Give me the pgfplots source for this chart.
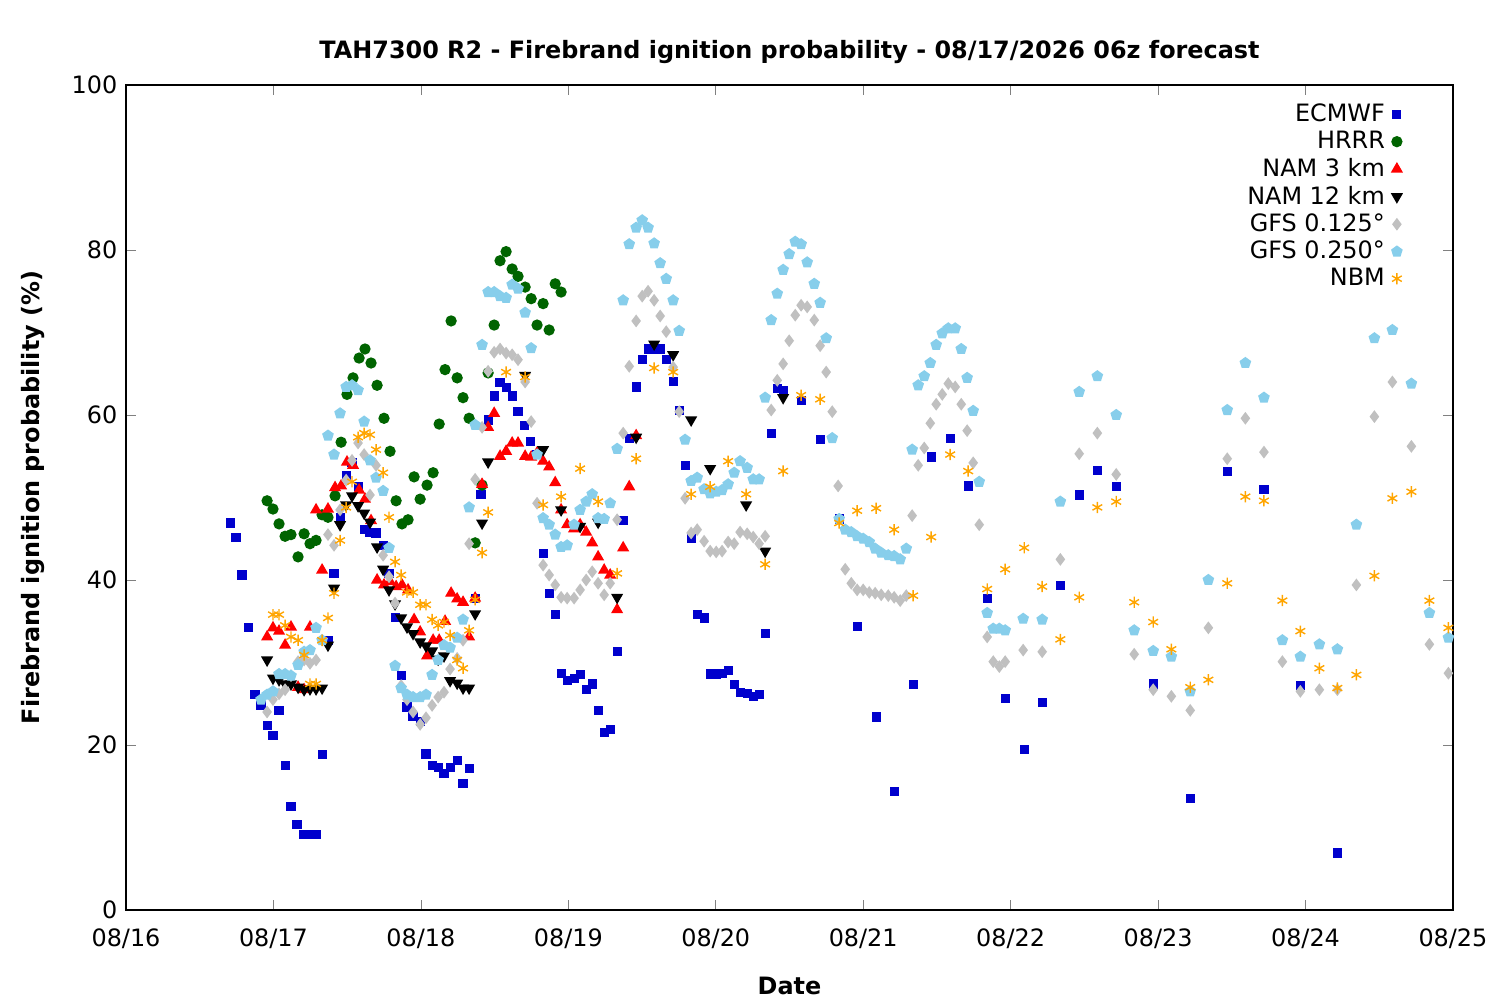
\documentclass[border=0pt]{standalone}
\usepackage{pgfplots}
\pgfplotsset{compat=1.18}
\usepackage{fontspec}
\setmainfont{DejaVu Sans}
\definecolor{ecm}{HTML}{0000CD}
\definecolor{hrrr}{HTML}{006400}
\definecolor{gfsa}{HTML}{C0C0C0}
\definecolor{gfsb}{HTML}{87CEEB}
\definecolor{nbm}{HTML}{FFA500}
\begin{document}
\fontsize{6.8pt}{8pt}\selectfont
\begin{tikzpicture}
\begin{axis}[
 scale only axis, width=13.27cm, height=8.25cm,
 xmin=0, xmax=9, ymin=0, ymax=100,
 xtick={0,...,9}, xticklabels={08/16,08/17,08/18,08/19,08/20,08/21,08/22,08/23,08/24,08/25},
 ytick={0,20,40,60,80,100},
 tick align=inside, tick pos=both, major tick length=0.1cm,
 /pgf/number format/assume math mode=true,
 ticklabel style={font=\fontsize{6.8pt}{8pt}\selectfont},
 xticklabel style={yshift=-0.1cm},
 xlabel={\textbf{Date}}, ylabel={\textbf{Firebrand ignition probability (\%)}},
 xlabel style={yshift=-0.12cm}, ylabel style={yshift=0.1cm},
 title={\textbf{TAH7300 R2 - Firebrand ignition probability - 08/17/2026 06z forecast}},
 title style={yshift=-0.08cm},
 legend style={draw=none, fill=none, at={(0.97,0.995)}, anchor=north east, font=\fontsize{6.8pt}{8pt}\selectfont, row sep=-2.3pt},
 legend cell align=right, legend plot pos=right,
 only marks, mark size=1.3pt,
]
\addplot[ecm, mark=square*, mark size=1.1pt] coordinates {
(0.706,46.9)(0.746,45.1)(0.787,40.6)(0.828,34.2)(0.875,26.1)(0.916,24.8)(0.957,22.4)(0.997,21.1)(1.038,24.2)(1.079,17.5)(1.119,12.5)(1.160,10.4)(1.201,9.1)(1.248,9.1)(1.289,9.1)(1.330,18.8)(1.370,32.7)(1.411,40.8)(1.452,47.6)(1.493,52.7)(1.533,54.2)(1.574,51.3)(1.615,46.1)(1.655,45.8)(1.696,45.7)(1.744,44.2)(1.784,40.8)(1.825,35.5)(1.866,28.4)(1.906,24.6)(1.947,23.5)(1.995,22.8)(2.035,18.9)(2.076,17.5)(2.117,17.3)(2.157,16.5)(2.198,17.3)(2.246,18.1)(2.286,15.3)(2.327,17.2)(2.368,37.8)(2.408,50.4)(2.456,59.4)(2.497,62.3)(2.537,63.9)(2.578,63.3)(2.619,62.3)(2.659,60.4)(2.700,58.7)(2.741,56.8)(2.788,55.2)(2.829,43.2)(2.870,38.4)(2.911,35.8)(2.951,28.7)(2.992,27.8)(3.039,28.1)(3.080,28.5)(3.121,26.7)(3.162,27.4)(3.202,24.2)(3.243,21.5)(3.284,21.9)(3.331,31.3)(3.372,47.2)(3.413,57.2)(3.460,63.4)(3.501,66.7)(3.541,68.0)(3.582,67.9)(3.623,68.0)(3.664,66.7)(3.711,64.1)(3.752,60.5)(3.792,53.9)(3.833,45.0)(3.874,35.8)(3.921,35.4)(3.962,28.6)(4.003,28.6)(4.043,28.7)(4.084,29.0)(4.125,27.3)(4.165,26.4)(4.213,26.2)(4.254,25.9)(4.294,26.1)(4.335,33.5)(4.376,57.8)(4.417,63.2)(4.457,62.9)(4.579,61.8)(4.708,57.0)(4.837,47.4)(4.959,34.4)(5.088,23.4)(5.210,14.4)(5.339,27.3)(5.461,54.9)(5.590,57.2)(5.712,51.4)(5.841,37.8)(5.963,25.6)(6.092,19.5)(6.214,25.2)(6.337,39.3)(6.465,50.3)(6.588,53.3)(6.716,51.3)(6.967,27.4)(7.218,13.5)(7.469,53.1)(7.718,51.0)(7.965,27.2)(8.216,6.9)};
\addlegendentry{ECMWF}
\addplot[hrrr, mark=*, mark size=1.4pt] coordinates {
(0.957,49.6)(0.997,48.6)(1.038,46.8)(1.079,45.3)(1.119,45.5)(1.167,42.8)(1.208,45.6)(1.248,44.4)(1.289,44.8)(1.330,47.9)(1.370,47.6)(1.418,50.2)(1.459,56.7)(1.499,62.5)(1.540,64.5)(1.581,66.9)(1.621,68.0)(1.662,66.3)(1.703,63.6)(1.750,59.6)(1.791,55.6)(1.832,49.6)(1.872,46.8)(1.913,47.3)(1.954,52.5)(1.995,49.8)(2.042,51.5)(2.083,53.0)(2.124,58.9)(2.164,65.5)(2.205,71.4)(2.246,64.5)(2.286,62.1)(2.327,59.6)(2.368,44.5)(2.415,51.5)(2.456,65.1)(2.497,70.9)(2.537,78.7)(2.578,79.8)(2.619,77.7)(2.659,76.8)(2.707,75.5)(2.748,74.1)(2.788,70.9)(2.829,73.5)(2.870,70.3)(2.911,75.9)(2.951,74.9)};
\addlegendentry{HRRR}
\addplot[red, mark=triangle*, mark size=1.6pt] coordinates {
(0.957,33.1)(0.997,34.2)(1.038,33.8)(1.079,32.1)(1.119,34.3)(1.167,27.0)(1.208,26.7)(1.248,34.3)(1.289,48.5)(1.330,41.2)(1.370,48.6)(1.418,51.2)(1.459,51.4)(1.499,54.3)(1.540,53.9)(1.581,50.9)(1.621,49.8)(1.662,47.2)(1.703,40.0)(1.750,39.4)(1.791,39.8)(1.832,39.2)(1.872,39.4)(1.913,38.8)(1.954,35.2)(1.995,33.7)(2.042,30.8)(2.083,32.7)(2.124,32.7)(2.164,35.0)(2.205,38.4)(2.246,37.7)(2.286,37.3)(2.327,33.1)(2.368,37.8)(2.415,51.6)(2.456,58.5)(2.497,60.2)(2.537,55.0)(2.578,55.6)(2.619,56.6)(2.659,56.6)(2.707,55.0)(2.748,54.9)(2.788,55.4)(2.829,54.4)(2.870,53.7)(2.911,51.8)(2.951,48.5)(2.992,46.7)(3.039,46.2)(3.080,46.7)(3.121,45.8)(3.162,44.5)(3.202,42.8)(3.243,41.2)(3.284,40.6)(3.331,36.4)(3.372,43.9)(3.413,51.3)(3.460,57.5)};
\addlegendentry{NAM 3 km}
\addplot[black, mark=triangle*, mark size=1.6pt, mark options={rotate=180}] coordinates {
(0.957,30.3)(0.997,28.1)(1.038,27.9)(1.079,27.4)(1.119,27.4)(1.167,27.0)(1.208,26.7)(1.248,26.8)(1.289,26.8)(1.330,26.9)(1.370,32.1)(1.411,39.0)(1.452,46.7)(1.493,49.1)(1.533,50.2)(1.574,49.0)(1.615,48.1)(1.655,47.0)(1.703,44.0)(1.744,41.3)(1.784,38.8)(1.825,37.1)(1.866,35.4)(1.906,34.3)(1.947,33.5)(1.995,32.5)(2.035,32.0)(2.076,31.4)(2.117,30.4)(2.157,30.8)(2.198,27.8)(2.246,27.5)(2.286,26.9)(2.327,26.9)(2.368,35.9)(2.415,46.9)(2.456,54.3)(2.707,64.8)(2.829,55.8)(2.951,48.5)(3.080,46.5)(3.202,47.0)(3.331,37.9)(3.460,57.3)(3.582,68.6)(3.711,67.3)(3.833,59.4)(3.962,53.5)(4.206,49.1)(4.335,43.5)(4.457,62.1)};
\addlegendentry{NAM 12 km}
\addplot[gfsa, mark=diamond*, mark size=1.5pt] coordinates {
(0.957,24.0)(0.997,25.5)(1.038,26.2)(1.079,26.7)(1.119,28.4)(1.167,30.1)(1.208,30.3)(1.248,29.9)(1.289,30.3)(1.330,32.7)(1.370,45.5)(1.411,44.2)(1.452,48.5)(1.493,52.1)(1.533,54.5)(1.574,56.6)(1.615,55.2)(1.655,50.3)(1.696,53.9)(1.744,43.0)(1.784,40.4)(1.825,37.2)(1.866,27.2)(1.906,25.5)(1.947,24.0)(1.995,22.5)(2.035,23.3)(2.076,24.8)(2.117,25.8)(2.157,26.4)(2.198,29.2)(2.246,30.5)(2.286,32.7)(2.327,44.4)(2.368,52.2)(2.415,58.5)(2.456,65.3)(2.497,67.6)(2.537,68.0)(2.578,67.5)(2.619,67.3)(2.659,66.7)(2.707,64.0)(2.748,59.2)(2.788,49.3)(2.829,41.8)(2.870,40.6)(2.911,39.4)(2.951,37.9)(2.992,37.8)(3.039,37.8)(3.080,38.8)(3.121,40.0)(3.162,41.0)(3.202,39.6)(3.243,38.2)(3.284,39.6)(3.331,47.3)(3.372,57.8)(3.413,65.9)(3.460,71.4)(3.501,74.4)(3.541,75.0)(3.582,73.9)(3.623,72.0)(3.664,70.1)(3.711,65.8)(3.752,60.4)(3.792,49.9)(3.833,45.7)(3.874,46.1)(3.921,44.7)(3.962,43.5)(4.003,43.4)(4.043,43.5)(4.084,44.6)(4.125,44.4)(4.165,45.8)(4.213,45.6)(4.254,45.2)(4.294,44.4)(4.335,45.3)(4.376,60.6)(4.417,64.2)(4.457,66.2)(4.498,69.0)(4.539,72.1)(4.579,73.3)(4.620,73.1)(4.668,71.5)(4.708,68.4)(4.749,65.2)(4.790,60.4)(4.830,51.4)(4.878,41.3)(4.919,39.6)(4.959,38.8)(5.000,38.8)(5.041,38.5)(5.081,38.4)(5.122,38.2)(5.170,38.1)(5.210,37.9)(5.251,37.5)(5.292,38.1)(5.332,47.8)(5.373,53.9)(5.414,56.0)(5.455,59.0)(5.495,61.3)(5.536,62.5)(5.577,63.8)(5.624,63.4)(5.665,61.3)(5.705,58.1)(5.746,54.2)(5.787,46.7)(5.841,33.1)(5.882,30.1)(5.923,29.5)(5.963,30.1)(6.085,31.5)(6.214,31.3)(6.337,42.5)(6.465,55.3)(6.588,57.8)(6.716,52.8)(6.838,31.0)(6.967,26.7)(7.090,25.9)(7.218,24.2)(7.341,34.2)(7.469,54.7)(7.592,59.6)(7.718,55.5)(7.843,30.1)(7.965,26.5)(8.094,26.7)(8.216,26.7)(8.345,39.4)(8.467,59.8)(8.589,64.0)(8.718,56.2)(8.840,32.2)(8.969,28.7)};
\addlegendentry{GFS 0.125°}
\addplot[gfsb, mark=pentagon*, mark size=1.5pt] coordinates {
(0.916,25.5)(0.957,26.1)(0.997,26.5)(1.038,28.6)(1.079,28.6)(1.119,28.4)(1.167,29.7)(1.208,31.3)(1.248,31.5)(1.289,34.2)(1.330,32.7)(1.370,57.5)(1.411,55.2)(1.452,60.2)(1.493,63.4)(1.533,63.6)(1.574,63.0)(1.615,59.2)(1.655,54.5)(1.696,52.4)(1.744,50.8)(1.784,43.9)(1.825,29.6)(1.866,26.9)(1.906,26.1)(1.947,25.8)(1.995,25.8)(2.035,26.1)(2.076,28.5)(2.117,30.3)(2.157,32.1)(2.198,31.8)(2.246,33.0)(2.286,35.2)(2.327,48.8)(2.368,58.8)(2.415,68.5)(2.456,74.9)(2.497,74.9)(2.537,74.4)(2.578,74.2)(2.619,75.8)(2.659,75.3)(2.707,72.4)(2.748,68.1)(2.788,55.2)(2.829,47.5)(2.870,46.7)(2.911,45.5)(2.951,44.0)(2.992,44.2)(3.039,46.7)(3.080,48.5)(3.121,49.5)(3.162,50.4)(3.202,47.5)(3.243,47.4)(3.284,49.3)(3.331,55.9)(3.372,73.9)(3.413,80.7)(3.460,82.7)(3.501,83.6)(3.541,82.7)(3.582,80.8)(3.623,78.4)(3.664,76.5)(3.711,73.9)(3.752,70.2)(3.792,57.0)(3.833,52.0)(3.874,52.4)(3.921,51.0)(3.962,50.5)(4.003,50.7)(4.043,50.9)(4.084,51.6)(4.125,53.0)(4.165,54.4)(4.213,53.6)(4.254,52.2)(4.294,52.2)(4.335,62.1)(4.376,71.5)(4.417,74.7)(4.457,77.6)(4.498,79.5)(4.539,81.0)(4.579,80.7)(4.620,78.5)(4.668,75.9)(4.708,73.6)(4.749,69.3)(4.790,57.2)(4.837,47.4)(4.878,46.1)(4.919,45.8)(4.959,45.3)(5.000,45.0)(5.041,44.6)(5.081,43.8)(5.122,43.3)(5.170,43.0)(5.210,42.9)(5.251,42.5)(5.292,43.8)(5.332,55.8)(5.373,63.6)(5.414,64.7)(5.455,66.3)(5.495,68.5)(5.536,69.9)(5.577,70.5)(5.624,70.5)(5.665,68.0)(5.705,64.5)(5.746,60.5)(5.787,51.9)(5.841,36.0)(5.882,34.1)(5.923,34.1)(5.963,33.9)(6.085,35.3)(6.214,35.2)(6.337,49.5)(6.465,62.8)(6.588,64.7)(6.716,60.0)(6.838,33.9)(6.967,31.4)(7.090,30.7)(7.218,26.5)(7.341,40.0)(7.469,60.6)(7.592,66.3)(7.718,62.1)(7.843,32.7)(7.965,30.7)(8.094,32.2)(8.216,31.6)(8.345,46.7)(8.467,69.3)(8.589,70.3)(8.718,63.8)(8.840,36.0)(8.969,33.0)};
\addlegendentry{GFS 0.250°}
\addplot[nbm, mark=asterisk, mark size=1.6pt] coordinates {
(0.997,35.8)(1.038,35.8)(1.079,34.5)(1.119,33.1)(1.167,32.7)(1.208,30.9)(1.248,27.4)(1.289,27.4)(1.330,32.7)(1.370,35.4)(1.411,38.4)(1.452,44.8)(1.493,48.8)(1.533,51.9)(1.574,57.3)(1.615,57.8)(1.655,57.6)(1.696,55.8)(1.744,53.0)(1.784,47.6)(1.825,42.2)(1.866,40.6)(1.906,38.5)(1.947,38.5)(1.995,37.0)(2.035,37.0)(2.076,35.2)(2.117,34.5)(2.157,34.9)(2.198,33.3)(2.246,30.3)(2.286,29.3)(2.327,33.9)(2.368,37.6)(2.415,43.3)(2.456,48.2)(2.578,65.2)(2.707,64.6)(2.829,49.1)(2.951,50.1)(3.080,53.5)(3.202,49.5)(3.331,40.8)(3.460,54.7)(3.582,65.7)(3.711,65.2)(3.833,50.4)(3.962,51.3)(4.084,54.4)(4.206,50.4)(4.335,41.9)(4.457,53.2)(4.579,62.4)(4.708,61.9)(4.837,46.9)(4.959,48.4)(5.088,48.7)(5.210,46.1)(5.339,38.1)(5.461,45.2)(5.590,55.2)(5.712,53.2)(5.841,38.9)(5.963,41.3)(6.092,43.9)(6.214,39.2)(6.337,32.8)(6.465,37.9)(6.588,48.8)(6.716,49.5)(6.838,37.3)(6.967,34.9)(7.090,31.6)(7.218,27.0)(7.341,27.9)(7.469,39.6)(7.592,50.1)(7.718,49.6)(7.843,37.5)(7.965,33.8)(8.094,29.3)(8.216,26.9)(8.345,28.5)(8.467,40.5)(8.589,49.9)(8.718,50.7)(8.840,37.5)(8.969,34.2)};
\addlegendentry{NBM}
\end{axis}
\path (current axis.south west) ++(-1.26cm,-0.90cm) rectangle ++(15cm,10cm);
\end{tikzpicture}
\end{document}
